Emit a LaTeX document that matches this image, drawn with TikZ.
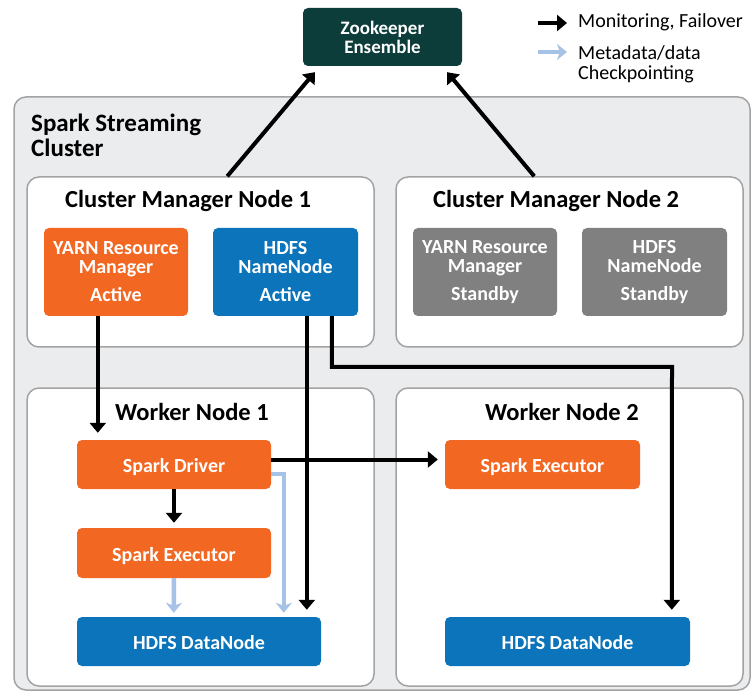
\documentclass[tikz,border=0pt]{standalone}
\usepackage{fontspec}
\setmainfont{Carlito}
\usetikzlibrary{arrows.meta,calc}
\definecolor{sorange}{HTML}{F26722}
\definecolor{sblue}{HTML}{0B74BB}
\definecolor{steal}{HTML}{0C3D3B}
\definecolor{sgray}{HTML}{808080}
\definecolor{lblue}{HTML}{A6C2E6}
\definecolor{outerfill}{HTML}{EBECEE}
\definecolor{bordergray}{HTML}{A3A3A3}
\begin{document}
\begin{tikzpicture}[x=1pt,y=-1pt,
  cont/.style={draw=bordergray, line width=1.5pt, rounded corners=12pt, inner sep=0pt},
  cbox/.style={rounded corners=5pt, inner sep=0pt, text=white, font=\bfseries\fontsize{20}{19}\selectfont, align=center},
  oneline/.style={text height=16pt, text depth=0pt},
  head/.style={anchor=base west, inner sep=0pt, font=\bfseries\fontsize{24.5}{24}\selectfont},
  legtxt/.style={anchor=base west, inner sep=0pt, font=\fontsize{20}{20}\selectfont},
  blk/.style={draw=black, line width=4pt, -{Triangle[width=16pt,length=10pt]}},
  lbl/.style={draw=lblue, line width=4.5pt, -{Stealth[width=16pt,length=10pt,inset=3pt]}}
]
\useasboundingbox (0,0) rectangle (752,692);

% outer cluster
\node[cont, fill=outerfill, minimum width=736pt, minimum height=593pt] (outer) at (382,393.5) {};
\node[head, font=\bfseries\fontsize{25}{24}\selectfont] (title1) at (31,132) {Spark Streaming};
\node[head, font=\bfseries\fontsize{25}{24}\selectfont] (title2) at (31,157) {Cluster};

% containers
\node[cont, fill=white, minimum width=347pt, minimum height=170pt] (cm1) at (200.5,262) {};
\node[cont, fill=white, minimum width=347pt, minimum height=170pt] (cm2) at (569.5,262) {};
\node[cont, fill=white, minimum width=347pt, minimum height=298pt] (w1) at (200.5,537) {};
\node[cont, fill=white, minimum width=347pt, minimum height=298pt] (w2) at (569.5,537) {};

\node[head] (cm1t) at (65,208) {Cluster Manager Node 1};
\node[head] (cm2t) at (433,208) {Cluster Manager Node 2};
\node[head] (w1t) at (115,420) {Worker Node 1};
\node[head] (w2t) at (485,420) {Worker Node 2};

% zookeeper
\node[cbox, fill=steal, minimum width=159pt, minimum height=58pt, font=\bfseries\fontsize{19}{19}\selectfont] (zk) at (382.5,37) {Zookeeper\\Ensemble};

% cluster manager boxes
\node[cbox, fill=sorange, minimum width=144pt, minimum height=88pt] (yarn1) at (116,272) {YARN Resource\\Manager\\[9pt]Active};
\node[cbox, fill=sblue, minimum width=145pt, minimum height=88pt] (nn1) at (285.5,272) {HDFS\\NameNode\\[9pt]Active};
\node[cbox, fill=sgray, minimum width=144pt, minimum height=88pt] (yarn2) at (485,272) {YARN Resource\\Manager\\[9pt]Standby};
\node[cbox, fill=sgray, minimum width=145pt, minimum height=88pt] (nn2) at (654.5,272) {HDFS\\NameNode\\[9pt]Standby};

% worker boxes
\node[cbox, oneline, fill=sorange, minimum width=194pt, minimum height=49pt] (drv) at (174,464.5) {Spark Driver};
\node[cbox, oneline, fill=sorange, minimum width=194pt, minimum height=50pt] (ex1) at (174,553) {Spark Executor};
\node[cbox, oneline, fill=sblue, minimum width=244pt, minimum height=49pt] (dn1) at (199,641.5) {HDFS DataNode};
\node[cbox, oneline, fill=sorange, minimum width=195pt, minimum height=49pt] (ex2) at (542.5,464.5) {Spark Executor};
\node[cbox, oneline, fill=sblue, minimum width=245pt, minimum height=49pt] (dn2) at (567.5,641.5) {HDFS DataNode};

% legend
\coordinate (lg1a) at (538,23);
\coordinate (lg1b) at (567,23);
\coordinate (lg2a) at (538,52);
\coordinate (lg2b) at (567,52);
\draw[blk] (lg1a) -- (lg1b);
\draw[lbl] (lg2a) -- (lg2b);
\node[legtxt] (lt1) at (578,28) {Monitoring, Failover};
\node[legtxt] (lt2) at (578,60) {Metadata/data};
\node[legtxt] (lt3) at (578,80) {Checkpointing};

% arrows to zookeeper
\draw[blk] ($(cm1.north west)+(201,0)$) -- ($(zk.south west)+(12,6)$);
\draw[blk] ($(cm2.north west)+(139,0)$) -- ($(zk.south east)+(-15,6)$);

% light blue arrows
\draw[lbl] (ex1.south) -- ($(dn1.north west)+(97,-4)$);
\draw[lbl] ($(drv.east)+(0,9.5)$) -| ($(dn1.north west)+(207,-4)$);

% black arrows
\draw[blk] ($(yarn1.south west)+(54,0)$) -- ($(drv.north west)+(21,-7)$);
\draw[blk] (drv.south) -- ($(ex1.north)+(0,-5)$);
\draw[blk] ($(drv.east)+(0,-5)$) -- ($(ex2.west)+(-7,-5)$);
\draw[blk] ($(nn1.south west)+(94,0)$) -- ($(dn1.north west)+(230,-7)$);
\draw[blk] ($(nn1.south west)+(119,0)$) |- (672,367) -- ($(dn2.north west)+(227,-7)$);
\end{tikzpicture}
\end{document}
